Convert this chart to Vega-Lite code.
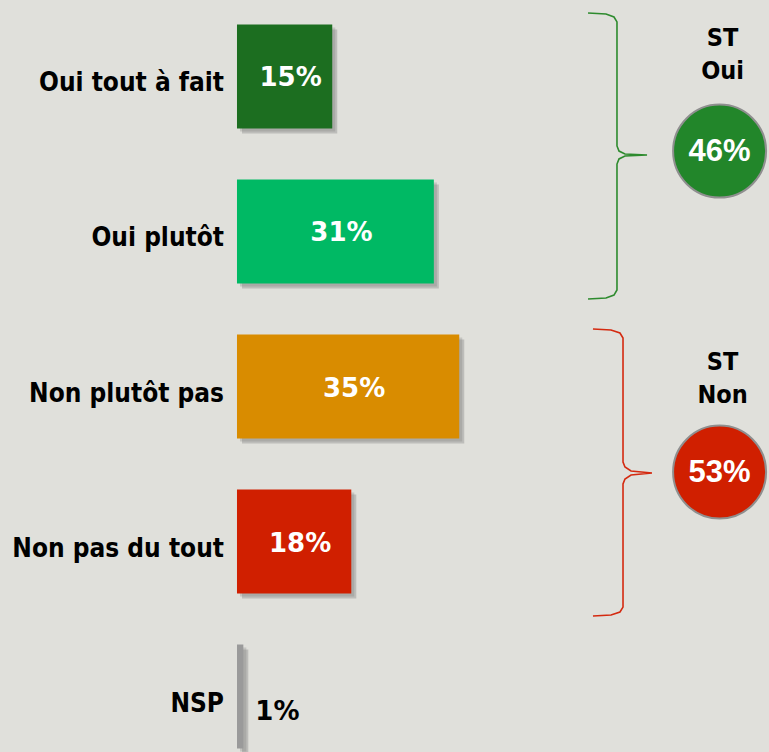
{
  "$schema": "https://vega.github.io/schema/vega-lite/v6.json",
  "width": 769,
  "height": 752,
  "autosize": {"type": "none"},
  "padding": 0,
  "background": "#e0e0db",
  "config": {"view": {"stroke": null}, "font": "DejaVu Sans"},
  "datasets": {
    "bars": [
      {"label": "Oui tout à fait", "row": 0, "value": 15, "pct": "15%"},
      {"label": "Oui plutôt", "row": 1, "value": 31, "pct": "31%"},
      {"label": "Non plutôt pas", "row": 2, "value": 35, "pct": "35%"},
      {"label": "Non pas du tout", "row": 3, "value": 18, "pct": "18%"},
      {"label": "NSP", "row": 4, "value": 1, "pct": "1%"}
    ],
    "braces": [
      {"group": "Oui", "ord": 1, "x": 55.28, "y": -0.410},
      {"group": "Oui", "ord": 2, "x": 58.11, "y": -0.403},
      {"group": "Oui", "ord": 3, "x": 59.37, "y": -0.384},
      {"group": "Oui", "ord": 4, "x": 59.84, "y": -0.352},
      {"group": "Oui", "ord": 5, "x": 59.84, "y": 0.448},
      {"group": "Oui", "ord": 6, "x": 60.16, "y": 0.481},
      {"group": "Oui", "ord": 7, "x": 61.10, "y": 0.500},
      {"group": "Oui", "ord": 8, "x": 64.57, "y": 0.506},
      {"group": "Oui", "ord": 9, "x": 61.10, "y": 0.513},
      {"group": "Oui", "ord": 10, "x": 60.16, "y": 0.532},
      {"group": "Oui", "ord": 11, "x": 59.84, "y": 0.565},
      {"group": "Oui", "ord": 12, "x": 59.84, "y": 1.377},
      {"group": "Oui", "ord": 13, "x": 59.37, "y": 1.410},
      {"group": "Oui", "ord": 14, "x": 58.11, "y": 1.429},
      {"group": "Oui", "ord": 15, "x": 55.28, "y": 1.435},
      {"group": "Non", "ord": 1, "x": 56.06, "y": 1.629},
      {"group": "Non", "ord": 2, "x": 58.90, "y": 1.635},
      {"group": "Non", "ord": 3, "x": 60.31, "y": 1.655},
      {"group": "Non", "ord": 4, "x": 60.79, "y": 1.687},
      {"group": "Non", "ord": 5, "x": 60.79, "y": 2.487},
      {"group": "Non", "ord": 6, "x": 61.10, "y": 2.519},
      {"group": "Non", "ord": 7, "x": 62.05, "y": 2.545},
      {"group": "Non", "ord": 8, "x": 65.35, "y": 2.558},
      {"group": "Non", "ord": 9, "x": 62.05, "y": 2.571},
      {"group": "Non", "ord": 10, "x": 61.10, "y": 2.597},
      {"group": "Non", "ord": 11, "x": 60.79, "y": 2.629},
      {"group": "Non", "ord": 12, "x": 60.79, "y": 3.423},
      {"group": "Non", "ord": 13, "x": 60.31, "y": 3.455},
      {"group": "Non", "ord": 14, "x": 58.90, "y": 3.474},
      {"group": "Non", "ord": 15, "x": 56.06, "y": 3.481}
    ],
    "totals": [
      {"group": "Oui", "row": 0.481, "pct": "46%", "title": "ST\nOui", "titleRow": -0.248},
      {"group": "Non", "row": 2.552, "pct": "53%", "title": "ST\nNon", "titleRow": 1.842}
    ]
  },
  "layer": [
    {
      "data": {"name": "bars"},
      "mark": {"type": "bar", "orient": "horizontal", "size": 104, "color": "#6e6e6e", "opacity": 0.25, "xOffset": 3, "x2Offset": 3, "yOffset": 3, "y2Offset": 3},
      "encoding": {
        "x": {"field": "value", "type": "quantitative", "scale": {"domain": [-37.32, 83.78], "nice": false, "zero": false, "padding": 0}, "axis": null},
        "x2": {"datum": 0},
        "y": {"field": "row", "type": "quantitative", "scale": {"domain": [-0.4935, 4.358], "reverse": true, "nice": false, "zero": false, "padding": 0}, "axis": null}
      }
    },
    {
      "data": {"name": "bars"},
      "mark": {"type": "bar", "orient": "horizontal", "size": 104, "color": "#6e6e6e", "opacity": 0.3, "xOffset": 5, "x2Offset": 5, "yOffset": 5, "y2Offset": 5},
      "encoding": {
        "x": {"field": "value", "type": "quantitative", "scale": {"domain": [-37.32, 83.78], "nice": false, "zero": false, "padding": 0}, "axis": null},
        "x2": {"datum": 0},
        "y": {"field": "row", "type": "quantitative", "scale": {"domain": [-0.4935, 4.358], "reverse": true, "nice": false, "zero": false, "padding": 0}, "axis": null}
      }
    },
    {
      "data": {"name": "bars"},
      "mark": {"type": "bar", "orient": "horizontal", "size": 104},
      "encoding": {
        "x": {"field": "value", "type": "quantitative", "scale": {"domain": [-37.32, 83.78], "nice": false, "zero": false, "padding": 0}, "axis": null},
        "x2": {"datum": 0},
        "y": {"field": "row", "type": "quantitative", "scale": {"domain": [-0.4935, 4.358], "reverse": true, "nice": false, "zero": false, "padding": 0}, "axis": null},
        "color": {
          "field": "label", "type": "nominal", "legend": null,
          "scale": {"domain": ["Oui tout à fait", "Oui plutôt", "Non plutôt pas", "Non pas du tout", "NSP"],
                    "range": ["#1c6e20", "#00b964", "#d98c00", "#d01f00", "#9a9a9a"]}
        }
      }
    },
    {
      "data": {"name": "bars"},
      "transform": [{"filter": "datum.label != 'NSP'"}, {"calculate": "datum.value / 2", "as": "mid"}],
      "mark": {"type": "text", "color": "white", "fontWeight": "bold", "fontSize": 26, "align": "center", "baseline": "middle", "dx": 6, "dy": 2},
      "encoding": {
        "x": {"field": "mid", "type": "quantitative", "scale": {"domain": [-37.32, 83.78], "nice": false, "zero": false, "padding": 0}, "axis": null},
        "y": {"field": "row", "type": "quantitative", "scale": {"domain": [-0.4935, 4.358], "reverse": true, "nice": false, "zero": false, "padding": 0}, "axis": null},
        "text": {"field": "pct"}
      }
    },
    {
      "data": {"name": "bars"},
      "transform": [{"filter": "datum.label == 'NSP'"}],
      "mark": {"type": "text", "color": "black", "fontWeight": "bold", "fontSize": 26, "align": "left", "baseline": "middle", "dx": 12, "dy": 15},
      "encoding": {
        "x": {"field": "value", "type": "quantitative", "scale": {"domain": [-37.32, 83.78], "nice": false, "zero": false, "padding": 0}, "axis": null},
        "y": {"field": "row", "type": "quantitative", "scale": {"domain": [-0.4935, 4.358], "reverse": true, "nice": false, "zero": false, "padding": 0}, "axis": null},
        "text": {"field": "pct"}
      }
    },
    {
      "data": {"name": "bars"},
      "mark": {"type": "text", "color": "black", "fontWeight": "bold", "fontSize": 26, "font": "DejaVu Sans Condensed", "align": "right", "baseline": "middle", "dx": -13, "dy": 7},
      "encoding": {
        "x": {"datum": 0, "type": "quantitative", "scale": {"domain": [-37.32, 83.78], "nice": false, "zero": false, "padding": 0}, "axis": null},
        "y": {"field": "row", "type": "quantitative", "scale": {"domain": [-0.4935, 4.358], "reverse": true, "nice": false, "zero": false, "padding": 0}, "axis": null},
        "text": {"field": "label"}
      }
    },
    {
      "data": {"name": "braces"},
      "mark": {"type": "line", "strokeWidth": 1.6, "interpolate": "linear"},
      "encoding": {
        "x": {"field": "x", "type": "quantitative", "scale": {"domain": [-37.32, 83.78], "nice": false, "zero": false, "padding": 0}, "axis": null},
        "y": {"field": "y", "type": "quantitative", "scale": {"domain": [-0.4935, 4.358], "reverse": true, "nice": false, "zero": false, "padding": 0}, "axis": null},
        "order": {"field": "ord", "type": "quantitative"},
        "detail": {"field": "group"},
        "stroke": {"field": "group", "type": "nominal", "legend": null, "scale": {"domain": ["Oui", "Non"], "range": ["#2e8b2e", "#d42a10"]}}
      }
    },
    {
      "data": {"name": "totals"},
      "mark": {"type": "point", "shape": "circle", "filled": true, "size": 8650, "stroke": "#8f8f8f", "strokeWidth": 2, "strokeOpacity": 1, "opacity": 1},
      "encoding": {
        "x": {"datum": 76, "type": "quantitative", "scale": {"domain": [-37.32, 83.78], "nice": false, "zero": false, "padding": 0}, "axis": null},
        "y": {"field": "row", "type": "quantitative", "scale": {"domain": [-0.4935, 4.358], "reverse": true, "nice": false, "zero": false, "padding": 0}, "axis": null},
        "fill": {"field": "group", "type": "nominal", "legend": null, "scale": {"domain": ["Oui", "Non"], "range": ["#22862a", "#d01f00"]}}
      }
    },
    {
      "data": {"name": "totals"},
      "mark": {"type": "text", "color": "white", "fontWeight": "bold", "fontSize": 31, "font": "Liberation Sans", "align": "center", "baseline": "middle", "dy": 1},
      "encoding": {
        "x": {"datum": 76, "type": "quantitative", "scale": {"domain": [-37.32, 83.78], "nice": false, "zero": false, "padding": 0}, "axis": null},
        "y": {"field": "row", "type": "quantitative", "scale": {"domain": [-0.4935, 4.358], "reverse": true, "nice": false, "zero": false, "padding": 0}, "axis": null},
        "text": {"field": "pct"}
      }
    },
    {
      "data": {"name": "totals"},
      "mark": {"type": "text", "color": "black", "fontWeight": "bold", "fontSize": 25, "font": "DejaVu Sans Condensed", "align": "center", "baseline": "middle", "lineBreak": "\n", "lineHeight": 33, "dx": 3},
      "encoding": {
        "x": {"datum": 76, "type": "quantitative", "scale": {"domain": [-37.32, 83.78], "nice": false, "zero": false, "padding": 0}, "axis": null},
        "y": {"field": "titleRow", "type": "quantitative", "scale": {"domain": [-0.4935, 4.358], "reverse": true, "nice": false, "zero": false, "padding": 0}, "axis": null},
        "text": {"field": "title"}
      }
    }
  ]
}
